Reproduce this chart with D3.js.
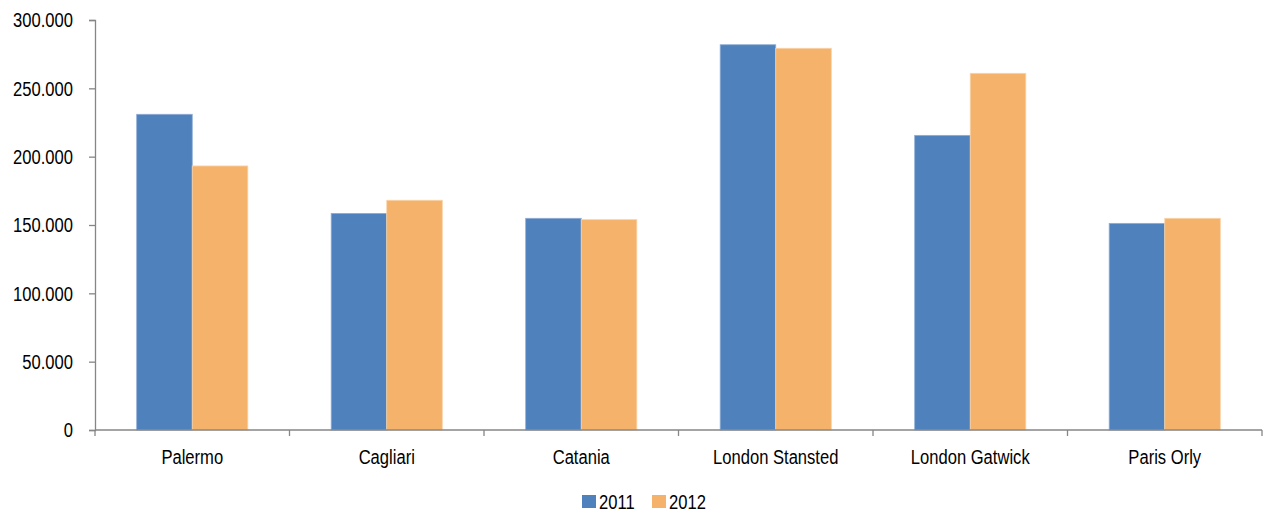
<!DOCTYPE html>
<html>
<head>
<meta charset="utf-8">
<script src="https://cdn.jsdelivr.net/npm/d3@7"></script>
<style>
  html, body { margin: 0; padding: 0; background: #fff; }
  svg { display: block; }
  text { font-family: "Liberation Sans", Arial, sans-serif; fill: #000; }
</style>
</head>
<body>
<svg id="chart" width="1263" height="513"></svg>
<script>
// Airports and passenger counts per year
const airports = ["Palermo", "Cagliari", "Catania", "London Stansted", "London Gatwick", "Paris Orly"];
const years = ["2011", "2012"];
const values2011 = [231000, 158500, 154900, 281900, 215600, 151200];
const values2012 = [193200, 168100, 153900, 279300, 261000, 154900];
const yTicks = [0, 50000, 100000, 150000, 200000, 250000, 300000];
const colors = ["#4F81BD", "#F4B26A"];
const strokeColors = ["#8EADD6", "#F9D3A8"];

const FONT_SIZE = 21;
const NARROW = 0.79; // horizontal squeeze to get a narrow sans look

// Squeeze a text element horizontally around its own x anchor
function narrow(sel) {
  sel.each(function () {
    const t = d3.select(this);
    const x = +t.attr("x") || 0;
    t.attr("transform", `translate(${x},0) scale(${NARROW},1) translate(${-x},0)`);
  });
}

const svg = d3.select("#chart");
const margin = { left: 95, right: 1, top: 20, bottom: 83 };
const W = 1263, H = 513;
const plotW = W - margin.left - margin.right;
const plotH = H - margin.top - margin.bottom;

const g = svg.append("g").attr("transform", `translate(${margin.left},${margin.top})`);

const x0 = d3.scaleBand().domain(airports).range([0, plotW]).paddingInner(0.4286).paddingOuter(0.2143);
const x1 = d3.scaleBand().domain(years).range([0, x0.bandwidth()]);
const y = d3.scaleLinear().domain([0, 300000]).range([plotH, 0]);

const fmt = v => d3.format(",")(v).replace(/,/g, ".");

// Bars
const series = [values2011, values2012];
airports.forEach((a, i) => {
  years.forEach((yr, j) => {
    const v = series[j][i];
    g.append("rect")
      .attr("x", x0(a) + x1(yr))
      .attr("y", y(v))
      .attr("width", x1.bandwidth())
      .attr("height", y(0) - y(v))
      .attr("fill", colors[j])
      .attr("stroke", strokeColors[j])
      .attr("stroke-width", 0.8);
  });
});

// Y axis
const yAxis = g.append("g")
  .call(d3.axisLeft(y).tickValues(yTicks).tickFormat(fmt).tickSize(6).tickPadding(16));
yAxis.select(".domain").attr("stroke", "#868686").attr("stroke-width", 1.3);
yAxis.selectAll(".tick line").attr("stroke", "#868686").attr("stroke-width", 1.3);
yAxis.selectAll(".tick text").attr("font-size", FONT_SIZE).attr("fill", "#000")
  .attr("font-family", "'Liberation Sans', Arial, sans-serif").call(narrow);

// X axis line with boundary ticks between categories
const xg = g.append("g").attr("transform", `translate(0,${plotH})`);
xg.append("line").attr("x1", 0).attr("x2", plotW).attr("y1", 0).attr("y2", 0)
  .attr("stroke", "#868686").attr("stroke-width", 1.3);
const step = x0.step();
d3.range(airports.length + 1).forEach(k => {
  const xx = k * step;
  xg.append("line").attr("x1", xx).attr("x2", xx).attr("y1", 0).attr("y2", 6)
    .attr("stroke", "#868686").attr("stroke-width", 1.3);
});
xg.selectAll("text.cat").data(airports).join("text")
  .attr("class", "cat")
  .attr("x", d => x0(d) + x0.bandwidth() / 2)
  .attr("y", 34)
  .attr("text-anchor", "middle")
  .attr("font-size", FONT_SIZE)
  .text(d => d)
  .call(narrow);

// Legend
const legend = svg.append("g").attr("transform", "translate(582,495)");
const legendX = [0, 70];
years.forEach((yr, j) => {
  legend.append("rect").attr("x", legendX[j]).attr("y", 0).attr("width", 14).attr("height", 13)
    .attr("fill", colors[j]);
  legend.append("text").attr("x", legendX[j] + 17).attr("y", 14)
    .attr("font-size", FONT_SIZE).text(yr).call(narrow);
});
</script>
</body>
</html>
